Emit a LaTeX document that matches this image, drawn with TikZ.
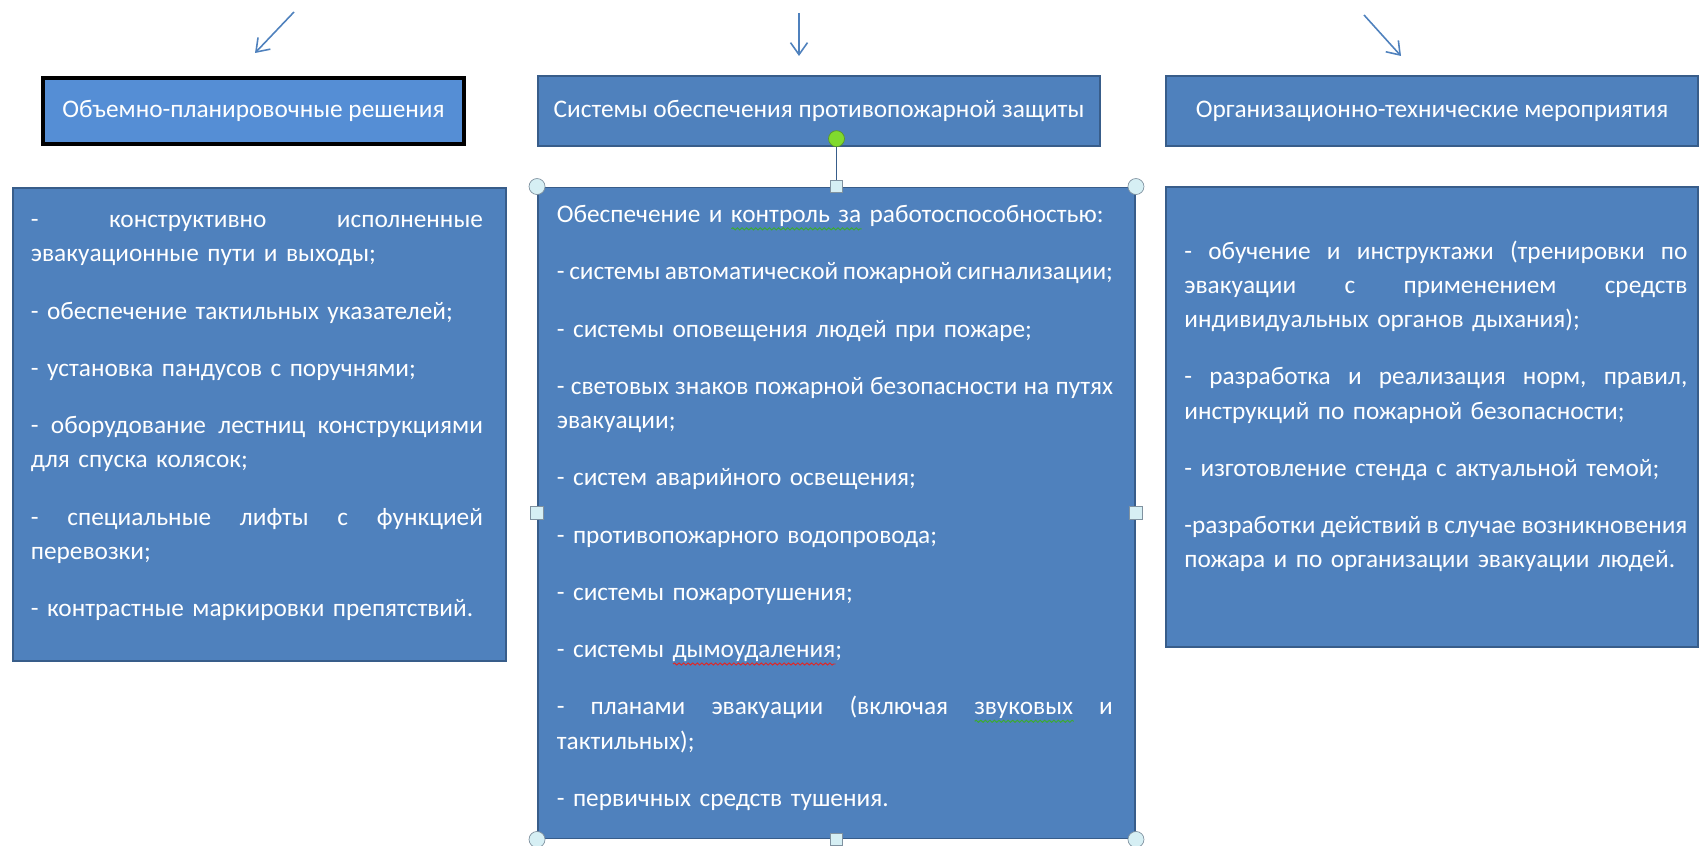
\documentclass[tikz,border=0pt]{standalone}
\usepackage{fontspec}
\setmainfont{Carlito}
\usetikzlibrary{arrows.meta,positioning,decorations.pathmorphing}
\definecolor{boxblue}{RGB}{79,129,189}
\definecolor{boxedge}{RGB}{56,93,138}
\definecolor{lightblue}{RGB}{85,142,213}
\definecolor{handlefill}{RGB}{214,239,244}
\definecolor{handleedge}{RGB}{128,146,160}
\definecolor{rotgreen}{RGB}{128,218,46}
\definecolor{rotedge}{RGB}{90,150,40}
\definecolor{spellgreen}{RGB}{60,170,50}
\definecolor{spellred}{RGB}{222,40,40}

\newlength{\wavewidth}
\newlength{\planwidth}\setlength{\planwidth}{9.04cm}
\newlength{\syswidth}\setlength{\syswidth}{11.12cm}
\newlength{\orgwidth}\setlength{\orgwidth}{10.06cm}
\newcommand{\spellwave}[2]{\settowidth{\wavewidth}{#2}%
    \rlap{\tikz[baseline=0pt]\draw[#1, line width=0.55pt, decorate, decoration={snake, amplitude=0.6pt, segment length=2.6pt}] (0pt,-3.6pt) -- (\wavewidth,-3.6pt);}#2}
% justified line: words separated by \wsp
\newcommand{\wsp}{\hskip 0.18em plus 1fill\relax}
\newcommand{\jline}[2]{\leavevmode\hbox to #1{#2}}

\begin{document}
\begin{tikzpicture}[>=Stealth,
    panel/.style={rectangle, draw=boxedge, line width=1.1pt, fill=boxblue},
    headbox/.style={panel, minimum height=1.4cm, text=white, font=\fontsize{14.4}{17}\selectfont},
    listtext/.style={anchor=base west, inner sep=0pt, align=left, text=white, font=\fontsize{14.4}{19.5}\selectfont},
    pointer/.style={-{Straight Barb[length=2.4mm,width=3.4mm]}, boxblue, line width=0.9pt},
    handle/.style={circle, draw=handleedge, fill=handlefill, minimum size=0.32cm, inner sep=0pt},
    sizer/.style={rectangle, draw=handleedge, fill=handlefill, minimum size=0.25cm, inner sep=0pt},
    rotator/.style={circle, draw=rotedge, fill=rotgreen, minimum size=0.32cm, inner sep=0pt}]

    \useasboundingbox (0,0) rectangle (34,-16.92);

    % Headings
    \node[headbox, fill=lightblue, draw=black, line width=2.2pt, minimum width=8.43cm, minimum height=1.33cm] (planhead) at (5.07,-2.22) {Объемно-планировочные решения};
    \node[headbox, minimum width=11.24cm] (syshead) at (16.38,-2.22) {Системы обеспечения противопожарной защиты};
    \node[headbox, minimum width=10.64cm] (orghead) at (28.64,-2.22) {Организационно-технические мероприятия};

    % Arrows from above
    \coordinate (planfrom) at (5.88,-0.24);
    \coordinate (planto) at (5.10,-1.06);
    \coordinate (sysfrom) at (15.98,-0.26);
    \coordinate (systo) at (15.98,-1.12);
    \coordinate (orgfrom) at (27.28,-0.30);
    \coordinate (orgto) at (28.02,-1.12);
    \draw[pointer] (planfrom) -- (planto);
    \draw[pointer] (sysfrom) -- (systo);
    \draw[pointer] (orgfrom) -- (orgto);

    % Content boxes
    \node[panel, minimum width=9.86cm, minimum height=9.46cm] (planbox) at (5.19,-8.49) {};
    \node[panel, minimum width=11.94cm, minimum height=13.02cm] (sysbox) at (16.73,-10.26) {};
    \node[panel, minimum width=10.64cm, minimum height=9.2cm] (orgbox) at (28.64,-8.34) {};

    % Left list
    \node[listtext, text width=\planwidth] (plantext) at ([shift={(0.37,-0.81)}]planbox.north west) {%
        \jline{\planwidth}{-\wsp конструктивно\wsp исполненные}\\
        эвакуационные пути и выходы;\\[0.46cm]
        - обеспечение тактильных указателей;\\[0.46cm]
        - установка пандусов с поручнями;\\[0.46cm]
        \jline{\planwidth}{-\wsp оборудование\wsp лестниц\wsp конструкциями}\\
        для спуска колясок;\\[0.46cm]
        \jline{\planwidth}{-\wsp специальные\wsp лифты\wsp с\wsp функцией}\\
        перевозки;\\[0.46cm]
        - контрастные маркировки препятствий.};

    % Middle list
    \node[listtext, text width=\syswidth] (systext) at ([shift={(0.39,-0.72)}]sysbox.north west) {%
        Обеспечение и \spellwave{spellgreen}{контроль за} работоспособностью:\\[0.46cm]
        \jline{\syswidth}{-\wsp системы\wsp автоматической\wsp пожарной\wsp сигнализации;}\\[0.46cm]
        - системы оповещения людей при пожаре;\\[0.46cm]
        \jline{\syswidth}{-\wsp световых\wsp знаков\wsp пожарной\wsp безопасности\wsp на\wsp путях}\\
        эвакуации;\\[0.46cm]
        - систем аварийного освещения;\\[0.46cm]
        - противопожарного водопровода;\\[0.46cm]
        - системы пожаротушения;\\[0.46cm]
        - системы \spellwave{spellred}{дымоудаления};\\[0.46cm]
        \jline{\syswidth}{-\wsp планами\wsp эвакуации\wsp (включая\wsp \spellwave{spellgreen}{звуковых}\wsp и}\\
        тактильных);\\[0.46cm]
        - первичных средств тушения.};

    % Right list
    \node[listtext, text width=\orgwidth] (orgtext) at ([shift={(0.38,-1.46)}]orgbox.north west) {%
        \jline{\orgwidth}{-\wsp обучение\wsp и\wsp инструктажи\wsp (тренировки\wsp по}\\
        \jline{\orgwidth}{эвакуации\wsp с\wsp применением\wsp средств}\\
        индивидуальных органов дыхания);\\[0.46cm]
        \jline{\orgwidth}{-\wsp разработка\wsp и\wsp реализация\wsp норм,\wsp правил,}\\
        инструкций по пожарной безопасности;\\[0.46cm]
        - изготовление стенда с актуальной темой;\\[0.46cm]
        \jline{\orgwidth}{-разработки\wsp действий\wsp в\wsp случае\wsp возникновения}\\
        пожара и по организации эвакуации людей.};

    % Selection handles
    \foreach \a/\n in {north west/nw, north east/ne, south west/sw, south east/se}
        \node[handle] (corner-\n) at (sysbox.\a) {};
    \foreach \a/\n in {north/n, south/s, west/w, east/e}
        \node[sizer] (side-\n) at (sysbox.\a) {};
    \node[rotator, above=0.79cm of sysbox.north] (turn) {};
    \draw[boxedge, line width=0.9pt] (turn) -- (side-n);

\end{tikzpicture}
\end{document}
